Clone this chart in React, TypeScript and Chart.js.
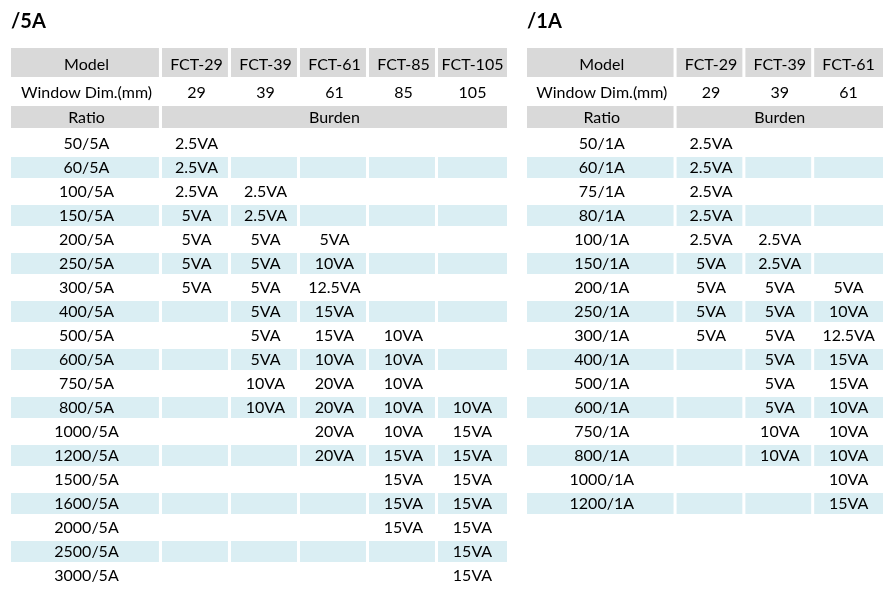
import React, { useEffect, useRef } from 'react';
import { Chart, registerables } from 'chart.js';

Chart.register(...registerables);

// ---------------- data ----------------
const models5A = ['FCT-29', 'FCT-39', 'FCT-61', 'FCT-85', 'FCT-105'];
const windowDims5A = ['29', '39', '61', '85', '105'];
const ratios5A = [
  '50/5A', '60/5A', '100/5A', '150/5A', '200/5A', '250/5A', '300/5A', '400/5A', '500/5A', '600/5A',
  '750/5A', '800/5A', '1000/5A', '1200/5A', '1500/5A', '1600/5A', '2000/5A', '2500/5A', '3000/5A',
];
const burden5A_FCT29 = [2.5, 2.5, 2.5, 5, 5, 5, 5, null, null, null, null, null, null, null, null, null, null, null, null];
const burden5A_FCT39 = [null, null, 2.5, 2.5, 5, 5, 5, 5, 5, 5, 10, 10, null, null, null, null, null, null, null];
const burden5A_FCT61 = [null, null, null, null, 5, 10, 12.5, 15, 15, 10, 20, 20, 20, 20, null, null, null, null, null];
const burden5A_FCT85 = [null, null, null, null, null, null, null, null, 10, 10, 10, 10, 10, 15, 15, 15, 15, null, null];
const burden5A_FCT105 = [null, null, null, null, null, null, null, null, null, null, null, 10, 15, 15, 15, 15, 15, 15, 15];

const models1A = ['FCT-29', 'FCT-39', 'FCT-61'];
const windowDims1A = ['29', '39', '61'];
const ratios1A = [
  '50/1A', '60/1A', '75/1A', '80/1A', '100/1A', '150/1A', '200/1A', '250/1A', '300/1A', '400/1A',
  '500/1A', '600/1A', '750/1A', '800/1A', '1000/1A', '1200/1A',
];
const burden1A_FCT29 = [2.5, 2.5, 2.5, 2.5, 2.5, 5, 5, 5, 5, null, null, null, null, null, null, null];
const burden1A_FCT39 = [null, null, null, null, 2.5, 2.5, 5, 5, 5, 5, 5, 5, 10, 10, null, null];
const burden1A_FCT61 = [null, null, null, null, null, null, 5, 10, 12.5, 15, 15, 10, 10, 10, 10, 15];

// ---------------- layout / style ----------------
const H = 593;
const FONT = 'Lato, "Open Sans", sans-serif';
const GRAY = '#D9D9D9';
const BLUE = '#DAEEF3';
const TEXT = '#000000';
const ROW_PX = 24;
const TITLE_BLOCK = 46; // title font 20*1.2 + padding 10 + 12
const Y_MAX = (H - TITLE_BLOCK) / ROW_PX;
const Y_HEADER = 0.6875;
const Y_WINDOW = 1.9;
const Y_RATIO = 2.958;
const Y_DATA0 = 4.0625;
const T_HEADER = 0.77;
const T_WINDOW = 1.94;
const T_RATIO = 3.0;
const GAP = 0.044;

type Table = {
  title: string;
  models: string[];
  dims: string[];
  ratios: string[];
  burdens: (number | null)[][];
  firstCol: number;
  padLeft: number;
  padRight: number;
};

const table5A: Table = {
  title: '/5A',
  models: models5A,
  dims: windowDims5A,
  ratios: ratios5A,
  burdens: [burden5A_FCT29, burden5A_FCT39, burden5A_FCT61, burden5A_FCT85, burden5A_FCT105],
  firstCol: 2.188,
  padLeft: 11,
  padRight: 8,
};

const table1A: Table = {
  title: '/1A',
  models: models1A,
  dims: windowDims1A,
  ratios: ratios1A,
  burdens: [burden1A_FCT29, burden1A_FCT39, burden1A_FCT61],
  firstCol: 2.174,
  padLeft: 12,
  padRight: 10,
};

function buildConfig(t: Table): any {
  const edges = [0, t.firstCol];
  t.models.forEach((_, k) => edges.push(edges[k + 1] + 1));
  const last = t.models.length;
  const cellX = (c0: number, c1: number) => [edges[c0], c1 === last ? edges[c1 + 1] : edges[c1 + 1] - GAP];
  const mid = (c0: number, c1: number) => (edges[c0] + edges[c1 + 1]) / 2;

  const headerCells: any[] = [];
  for (let c = 0; c <= last; c++) headerCells.push({ x: cellX(c, c), y: Y_HEADER });
  const ratioCells = [
    { x: cellX(0, 0), y: Y_RATIO },
    { x: cellX(1, last), y: Y_RATIO },
  ];
  const blueCells: any[] = [];
  t.ratios.forEach((_, i) => {
    if (i % 2 === 1) for (let c = 0; c <= last; c++) blueCells.push({ x: cellX(c, c), y: Y_DATA0 + i });
  });

  const texts: { x: number; y: number; s: string }[] = [];
  texts.push({ x: mid(0, 0), y: T_HEADER, s: 'Model' });
  t.models.forEach((m, k) => texts.push({ x: mid(k + 1, k + 1), y: T_HEADER, s: m }));
  texts.push({ x: mid(0, 0), y: T_WINDOW, s: 'Window Dim.(mm)' });
  t.dims.forEach((d, k) => texts.push({ x: mid(k + 1, k + 1), y: T_WINDOW, s: d }));
  texts.push({ x: mid(0, 0), y: T_RATIO, s: 'Ratio' });
  texts.push({ x: mid(1, last), y: T_RATIO, s: 'Burden' });
  t.ratios.forEach((r, i) => {
    texts.push({ x: mid(0, 0), y: Y_DATA0 + i, s: r });
    t.burdens.forEach((col, k) => {
      const v = col[i];
      if (v !== null && v !== undefined) texts.push({ x: mid(k + 1, k + 1), y: Y_DATA0 + i, s: `${v}VA` });
    });
  });

  const textPlugin = {
    id: 'cellText',
    afterDatasetsDraw(chart: any) {
      const { ctx, scales } = chart;
      ctx.save();
      ctx.font = `16px ${FONT}`;
      ctx.fillStyle = TEXT;
      ctx.textAlign = 'center';
      ctx.textBaseline = 'middle';
      for (const c of texts) {
        ctx.fillText(c.s, scales.x.getPixelForValue(c.x), scales.y.getPixelForValue(c.y));
      }
      ctx.restore();
    },
  };

  const barBase = { borderWidth: 0, borderSkipped: false, grouped: false, inflateAmount: 0 };

  return {
    type: 'bar',
    data: {
      datasets: [
        { ...barBase, label: 'header', data: headerCells, backgroundColor: GRAY, barThickness: 29 },
        { ...barBase, label: 'ratio', data: ratioCells, backgroundColor: GRAY, barThickness: 22 },
        { ...barBase, label: 'band', data: blueCells, backgroundColor: BLUE, barThickness: 21 },
      ],
    },
    options: {
      indexAxis: 'y',
      animation: false,
      responsive: false,
      layout: { padding: { left: t.padLeft, right: t.padRight, top: 0, bottom: 0 } },
      scales: {
        x: { type: 'linear', min: 0, max: edges[last + 1], display: false, offset: false },
        y: { type: 'linear', min: 0, max: Y_MAX, reverse: true, display: false, offset: false },
      },
      plugins: {
        legend: { display: false },
        tooltip: { enabled: false },
        title: {
          display: true,
          text: t.title,
          align: 'start',
          color: TEXT,
          font: { family: FONT, size: 20, weight: 'bold', lineHeight: 1.2 },
          padding: { top: 10, bottom: 12 },
        },
      },
    },
    plugins: [textPlugin],
  };
}

function TableChart({ table, left, width }: { table: Table; left: number; width: number }) {
  const ref = useRef<HTMLCanvasElement>(null);
  useEffect(() => {
    const chart = new Chart(ref.current as HTMLCanvasElement, buildConfig(table));
    return () => chart.destroy();
  }, [table]);
  return (
    <div style={{ position: 'absolute', left, top: 0, width, height: H }}>
      <canvas ref={ref} width={width} height={H} style={{ display: 'block', width, height: H }} />
    </div>
  );
}

export default function App() {
  return (
    <div style={{ position: 'absolute', left: 0, top: 0, width: 893, height: H, background: '#fff' }}>
      <TableChart table={table5A} left={0} width={515} />
      <TableChart table={table1A} left={515} width={378} />
    </div>
  );
}
